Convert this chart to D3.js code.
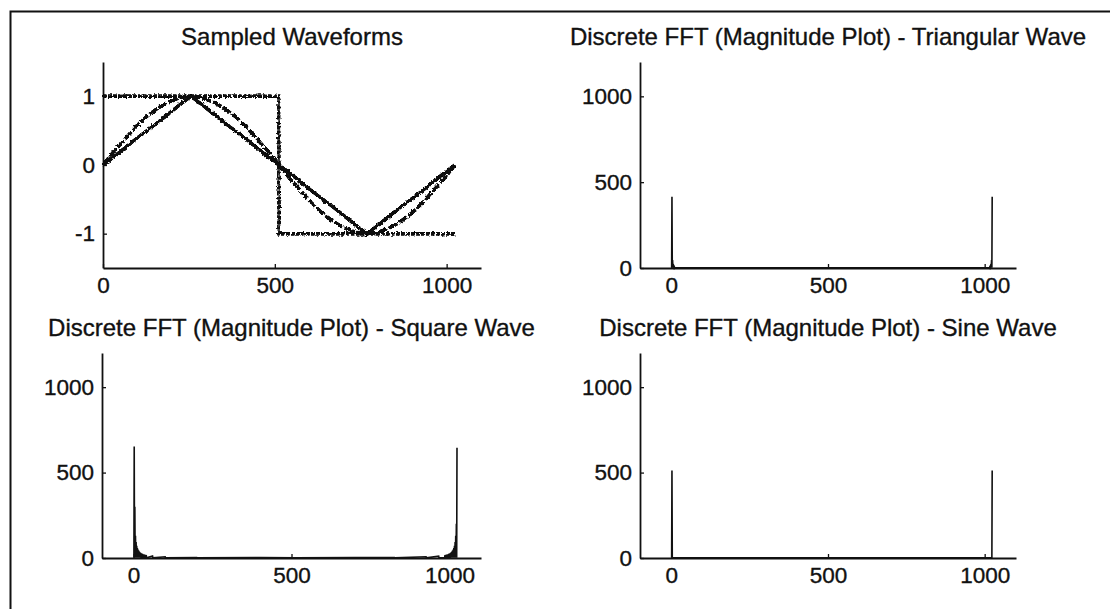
<!DOCTYPE html>
<html>
<head>
<meta charset="utf-8">
<script src="https://cdn.jsdelivr.net/npm/d3@7"></script>
<style>
  html, body { margin: 0; padding: 0; background: #ffffff; }
  svg { display: block; }
  text { font-family: "Liberation Sans", Arial, Helvetica, sans-serif; fill: #111; }
</style>
</head>
<body>
<svg id="chart" width="1110" height="609"></svg>
<script>
// ---------------- DATA ----------------
const titles = [
  "Sampled Waveforms",
  "Discrete FFT (Magnitude Plot) - Triangular Wave",
  "Discrete FFT (Magnitude Plot) - Square Wave",
  "Discrete FFT (Magnitude Plot) - Sine Wave"
];
const waveTicksX = [0, 500, 1000];
const waveTicksY = [-1, 0, 1];
const fftTicksX = [0, 500, 1000];
const fftTicksY = [0, 500, 1000];

// Sampled waveforms (sample index -> amplitude)
const sampleIdx = [0, 32, 64, 96, 128, 160, 192, 224, 256, 288, 320, 352, 384, 416, 448, 480, 512,
                   544, 576, 608, 640, 672, 704, 736, 768, 800, 832, 864, 896, 928, 960, 992, 1024];
const sineWave = [0, 0.2, 0.38, 0.56, 0.71, 0.83, 0.92, 0.98, 1, 0.98, 0.92, 0.83, 0.71, 0.56, 0.38, 0.2, 0,
                  -0.2, -0.38, -0.56, -0.71, -0.83, -0.92, -0.98, -1, -0.98, -0.92, -0.83, -0.71, -0.56, -0.38, -0.2, 0];
const triangleWave = [0, 0.12, 0.25, 0.38, 0.5, 0.62, 0.75, 0.88, 1, 0.88, 0.75, 0.62, 0.5, 0.38, 0.25, 0.12, 0,
                      -0.12, -0.25, -0.38, -0.5, -0.62, -0.75, -0.88, -1, -0.88, -0.75, -0.62, -0.5, -0.38, -0.25, -0.12, 0];
const squareIdx = [0, 128, 256, 384, 511, 512, 640, 768, 896, 1024];
const squareWave = [1, 1, 1, 1, 1, -1, -1, -1, -1, -1];

// FFT magnitudes (bin -> |X|)
const triBins = [1, 2, 3, 4, 5, 6, 7, 8, 9, 10, 11, 12, 20, 200, 512, 800, 1004, 1014, 1015, 1016, 1017, 1018, 1019, 1020, 1021, 1022, 1023, 1024];
const triMag  = [1, 415, 1, 46, 1, 17, 1, 8, 1, 5, 1, 3, 1, 1, 1, 1, 1, 3, 1, 5, 1, 8, 1, 17, 1, 46, 1, 415];

const squareBins = [1, 2, 3, 4, 5, 6, 7, 8, 9, 10, 11, 12, 13, 14, 15, 16, 17, 18, 19, 20, 21,
                    22, 23, 24, 25, 26, 27, 28, 29, 30, 31, 32, 33, 34, 35, 36, 37, 38, 39, 40, 41,
                    60, 61, 100, 101, 200, 201, 400, 513, 700, 826, 827, 926, 927, 966, 967,
                    985, 986, 987, 988, 989, 990, 991, 992, 993, 994, 995, 996, 997, 998, 999, 1000,
                    1001, 1002, 1003, 1004, 1005, 1006, 1007, 1008, 1009, 1010, 1011, 1012, 1013, 1014,
                    1015, 1016, 1017, 1018, 1019, 1020, 1021, 1022, 1023, 1024];
const squareMag  = [1, 652, 2, 300, 1, 130, 2, 93, 1, 72, 1, 59, 1, 50, 1, 43, 1, 38, 1, 34, 1,
                    31, 1, 28, 1, 26, 1, 24, 1, 22, 1, 21, 1, 20, 1, 19, 1, 18, 1, 17, 1,
                    11, 1, 7, 1, 3, 1, 2, 1, 2, 3, 1, 7, 1, 11, 1,
                    1, 17, 1, 18, 1, 19, 1, 20, 1, 21, 1, 22, 1, 24, 1, 26,
                    1, 28, 1, 31, 1, 34, 1, 38, 1, 43, 1, 50, 1, 59,
                    1, 72, 1, 93, 1, 130, 1, 200, 2, 645];

const sineBins = [1, 2, 3, 4, 200, 513, 800, 1022, 1023, 1024];
const sineMag  = [1, 512, 2, 1, 1, 1, 1, 1, 2, 512];

// ---------------- LAYOUT ----------------
const svg = d3.select("#chart");
const ink = "#111";

// outer frame (top and left edges visible)
svg.append("path")
  .attr("d", d3.line()([[10.5, 609], [10.5, 11.5], [1110, 11.5]]))
  .attr("fill", "none").attr("stroke", ink).attr("stroke-width", 2);

// roughen filter to mimic noisy scanned traces
const defs = svg.append("defs");
const f = defs.append("filter").attr("id", "rough").attr("x", "-5%").attr("y", "-5%").attr("width", "110%").attr("height", "110%");
f.append("feTurbulence").attr("type", "fractalNoise").attr("baseFrequency", 0.45).attr("numOctaves", 2).attr("seed", 5).attr("result", "n");
f.append("feDisplacementMap").attr("in", "SourceGraphic").attr("in2", "n").attr("scale", 3.5).attr("xChannelSelector", "R").attr("yChannelSelector", "G").attr("result", "d");
const ct = f.append("feComponentTransfer").attr("in", "d");
ct.append("feFuncA").attr("type", "linear").attr("slope", 3).attr("intercept", 0);

const panels = [
  { x0: 103, x1: 481, y0: 62, y1: 268, xd: [0, 1100], yd: [-1.5, 1.5], xt: waveTicksX, yt: waveTicksY, title: titles[0] },
  { x0: 640, x1: 1016, y0: 62, y1: 268, xd: [-100, 1100], yd: [0, 1200], xt: fftTicksX, yt: fftTicksY, title: titles[1] },
  { x0: 102, x1: 481, y0: 353, y1: 558, xd: [-100, 1100], yd: [0, 1200], xt: fftTicksX, yt: fftTicksY, title: titles[2] },
  { x0: 640, x1: 1016, y0: 353, y1: 558, xd: [-100, 1100], yd: [0, 1200], xt: fftTicksX, yt: fftTicksY, title: titles[3] }
];

panels.forEach(p => {
  p.x = d3.scaleLinear().domain(p.xd).range([p.x0, p.x1]);
  p.y = d3.scaleLinear().domain(p.yd).range([p.y1, p.y0]);
});

function drawAxes(p) {
  const gx = svg.append("g").attr("transform", `translate(0,${p.y1})`)
    .call(d3.axisBottom(p.x).tickValues(p.xt).tickFormat(d => String(d)).tickSizeInner(-4).tickSizeOuter(0).tickPadding(9));
  const gy = svg.append("g").attr("transform", `translate(${p.x0},0)`)
    .call(d3.axisLeft(p.y).tickValues(p.yt).tickFormat(d => String(d)).tickSizeInner(-4).tickSizeOuter(0).tickPadding(8));
  [gx, gy].forEach(g => {
    g.select(".domain").attr("stroke", ink).attr("stroke-width", 1.8);
    g.selectAll(".tick line").attr("stroke", ink).attr("stroke-width", 1.3);
    g.selectAll(".tick text").attr("font-size", 22.5).attr("fill", ink)
      .attr("stroke", ink).attr("stroke-width", 0.35)
      .attr("font-family", "'Liberation Sans', Arial, sans-serif");
  });
  svg.append("text")
    .attr("x", (p.x0 + p.x1) / 2).attr("y", p.y0 - 17)
    .attr("text-anchor", "middle").attr("font-size", 24)
    .attr("stroke", ink).attr("stroke-width", 0.35)
    .text(p.title);
}
panels.forEach(drawAxes);

// ---- Panel 1: sampled waveforms ----
const p1 = panels[0];
const waveLine = d3.line().x(d => p1.x(d[0])).y(d => p1.y(d[1]));
const g1 = svg.append("g").attr("filter", "url(#rough)");
g1.append("path")
  .attr("d", waveLine(d3.zip(squareIdx, squareWave)))
  .attr("fill", "none").attr("stroke", ink).attr("stroke-width", 3).attr("stroke-dasharray", "3.5,1.5");
g1.append("path")
  .attr("d", waveLine(d3.zip(sampleIdx, triangleWave)))
  .attr("fill", "none").attr("stroke", ink).attr("stroke-width", 3);
g1.append("path")
  .attr("d", waveLine(d3.zip(sampleIdx, sineWave)))
  .attr("fill", "none").attr("stroke", ink).attr("stroke-width", 3).attr("stroke-dasharray", "9,2.5");

// ---- FFT panels ----
function drawFFT(p, bins, mags) {
  const line = d3.line().x(d => p.x(d[0])).y(d => p.y(d[1]));
  svg.append("path")
    .attr("d", line(d3.zip(bins, mags)))
    .attr("fill", "none").attr("stroke", ink).attr("stroke-width", 1.6).attr("stroke-linejoin", "miter");
}
drawFFT(panels[1], triBins, triMag);
drawFFT(panels[2], squareBins, squareMag);
drawFFT(panels[3], sineBins, sineMag);
</script>
</body>
</html>
